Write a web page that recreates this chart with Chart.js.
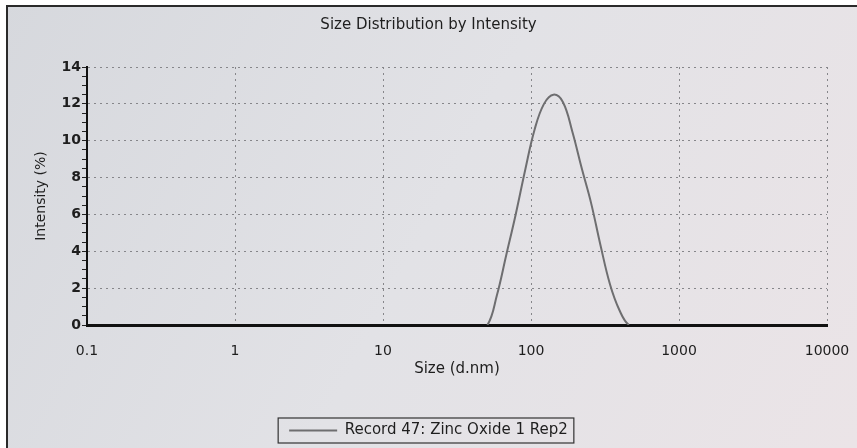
<!DOCTYPE html>
<html>
<head>
<meta charset="utf-8">
<script src="https://cdn.jsdelivr.net/npm/chart.js@4"></script>
<style>
  html, body { margin: 0; padding: 0; background: #fff; }
  #wrap { width: 857px; height: 448px; }
</style>
</head>
<body>
<div id="wrap"><canvas id="myChart" width="857" height="448"></canvas></div>
<script>
// DLS size bins (d.nm) and intensity (%)
const sizes = [0.4, 0.4632, 0.5365, 0.6213, 0.7195, 0.8332, 0.9649, 1.117, 1.294, 1.499,
  1.736, 2.01, 2.328, 2.696, 3.122, 3.615, 4.187, 4.849, 5.615, 6.503,
  7.531, 8.721, 10.1, 11.7, 13.54, 15.69, 18.17, 21.04, 24.36, 28.21,
  32.67, 37.84, 43.82, 50.75, 58.77, 68.06, 78.82, 91.28, 105.7, 122.4,
  141.8, 164.2, 190.1, 220.2, 255.0, 295.3, 342.0, 396.1, 458.7, 531.2,
  615.1, 712.4, 825.0, 955.4, 1106, 1281, 1484, 1718, 1990, 2305,
  2669, 3091, 3580, 4145, 4801, 5560, 6439, 7456, 8635, 10000];
const intensity = [0, 0, 0, 0, 0, 0, 0, 0, 0, 0,
  0, 0, 0, 0, 0, 0, 0, 0, 0, 0,
  0, 0, 0, 0, 0, 0, 0, 0, 0, 0,
  0, 0, 0, 0, 1.6, 3.8, 6.0, 8.4, 10.6, 12.0,
  12.5, 12.1, 10.5, 8.5, 6.6, 4.3, 2.2, 0.8, 0, 0,
  0, 0, 0, 0, 0, 0, 0, 0, 0, 0,
  0, 0, 0, 0, 0, 0, 0, 0, 0, 0];
const xTicks = [0.1, 1, 10, 100, 1000, 10000];
const yMajor = [0, 2, 4, 6, 8, 10, 12, 14];

const seriesLabel = 'Record 47: Zinc Oxide 1 Rep2';
const font = "'DejaVu Sans', Verdana, sans-serif";
const ink = '#1e1e1e';

const paper = {
    id: 'paper',
    beforeDraw(chart) {
        const c = chart.ctx;
        c.save();
        c.fillStyle = '#ffffff';
        c.fillRect(0, 0, chart.width, chart.height);
        const g = c.createLinearGradient(0, 0, chart.width, chart.height);
        g.addColorStop(0, '#d6d8dd');
        g.addColorStop(0.5, '#e2e2e6');
        g.addColorStop(1, '#ebe4e7');
        c.fillStyle = g;
        c.fillRect(7, 6, chart.width - 7, chart.height - 6);
        c.strokeStyle = '#2a2a2a';
        c.lineWidth = 2;
        c.beginPath();
        c.moveTo(7, chart.height);
        c.lineTo(7, 6);
        c.lineTo(chart.width, 6);
        c.stroke();
        c.restore();
    },
    afterDraw(chart) {
        const box = chart.legend.legendHitBoxes[0];
        if (!box) return;
        const c = chart.ctx;
        c.save();
        c.strokeStyle = '#333';
        c.lineWidth = 1.2;
        c.strokeRect(box.left - 11, box.top - 5, box.width + 17, box.height + 10);
        c.restore();
    }
};

const ctx = document.getElementById('myChart');

new Chart(ctx, {
    type: 'line',
    data: {
        datasets: [{
            label: seriesLabel,
            data: sizes.map((s, i) => ({ x: s, y: intensity[i] })),
            borderColor: '#6e6e70',
            borderWidth: 2,
            pointRadius: 0,
            tension: 0.4,
            segment: {
                borderColor: c => (c.p0.parsed.y === 0 && c.p1.parsed.y === 0 ? 'rgba(0,0,0,0)' : undefined)
            },
            fill: false
        }]
    },
    options: {
        responsive: false,
        animation: false,
        layout: { padding: { left: 30, right: 30, top: 0, bottom: 0 } },
        plugins: {
            title: {
                display: true,
                text: 'Size Distribution by Intensity',
                color: ink,
                font: { family: font, size: 15, weight: 'normal' },
                padding: { top: 16, bottom: 33 }
            },
            legend: {
                position: 'bottom',
                labels: {
                    color: ink,
                    font: { family: font, size: 15 },
                    usePointStyle: true,
                    pointStyle: 'line',
                    pointStyleWidth: 48,
                    padding: 7
                }
            },
            tooltip: { enabled: false }
        },
        scales: {
            x: {
                type: 'logarithmic',
                min: 0.1,
                max: 10000,
                afterBuildTicks: axis => { axis.ticks = xTicks.map(v => ({ value: v })); },
                afterFit: scale => {
                    scale.height = 91;
                    scale.paddingLeft = 0;
                    scale.paddingRight = 0;
                },
                ticks: {
                    color: ink,
                    font: { family: font, size: 14 },
                    padding: 18,
                    maxRotation: 0,
                    autoSkip: false,
                    callback: v => String(v)
                },
                grid: {
                    color: '#86868a',
                    lineWidth: 1,
                    drawTicks: false
                },
                border: { display: true, color: '#111', width: 3, dash: [2, 4] },
                title: {
                    display: true,
                    text: 'Size (d.nm)',
                    color: ink,
                    font: { family: font, size: 15 },
                    padding: { top: 0, bottom: 38 }
                }
            },
            y: {
                min: 0,
                max: 14,
                afterBuildTicks: axis => {
                    const t = [];
                    for (let v = 0; v <= 14; v += 0.5) t.push({ value: v });
                    axis.ticks = t;
                },
                afterFit: scale => { scale.width = 57; },
                ticks: {
                    color: ink,
                    font: { family: font, size: 14, weight: 'bold' },
                    padding: 1,
                    autoSkip: false,
                    callback: v => (yMajor.includes(v) ? String(v) : '')
                },
                grid: {
                    color: c => (yMajor.includes(c.tick.value) && c.tick.value !== 0 ? '#86868a' : 'rgba(0,0,0,0)'),
                    tickColor: '#222',
                    tickLength: 5,
                    lineWidth: 1
                },
                border: { display: true, color: '#111', width: 2, dash: [2, 4] },
                title: {
                    display: true,
                    text: 'Intensity (%)',
                    color: ink,
                    font: { family: font, size: 14 },
                    padding: { top: 3, bottom: 0 }
                }
            }
        }
    },
    plugins: [paper]
});
</script>
</body>
</html>
